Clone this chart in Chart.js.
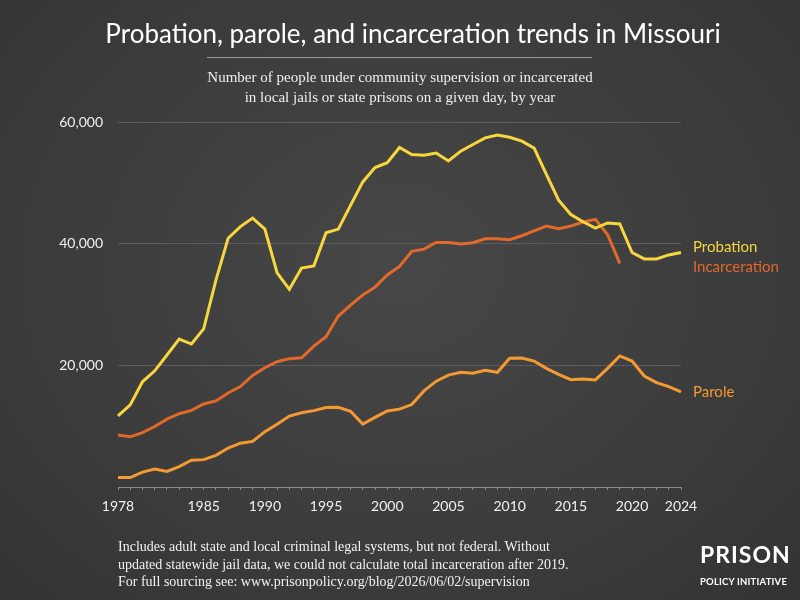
<!DOCTYPE html>
<html>
<head>
<meta charset="utf-8">
<script src="https://cdn.jsdelivr.net/npm/chart.js@4"></script>
<style>
  html, body { margin: 0; padding: 0; }
  body {
    width: 800px; height: 600px; overflow: hidden; position: relative;
    background: radial-gradient(ellipse at 50% 45%, #474747 0%, #3d3d3d 55%, #333333 100%);
    color: #fff;
  }
  #wrap { position: absolute; left: 0; top: 0; width: 800px; height: 600px; }
  .title {
    position: absolute; left: 13px; width: 800px; top: 17px; text-align: center;
    font-family: Lato, sans-serif; font-size: 26px; color: #fff;
  }
  .rule { position: absolute; left: 207px; width: 385px; top: 57px; height: 1px; background: #9a9a9a; }
  .sub {
    position: absolute; left: 0; width: 800px; top: 67px; text-align: center;
    font-family: "Liberation Serif", serif; font-size: 15px; line-height: 20px; color: #eee;
  }
  .foot {
    position: absolute; left: 118px; top: 538px;
    font-family: "Liberation Serif", serif; font-size: 14px; line-height: 17.5px; color: #f2f2f2;
  }
  .logo1 {
    position: absolute; left: 700px; top: 542px; font-family: Lato, sans-serif;
    font-size: 23px; font-weight: bold; letter-spacing: 1px; color: #fff; line-height: 24px;
  }
  .logo2 {
    position: absolute; left: 700px; top: 577px; font-family: Lato, sans-serif;
    font-size: 9.5px; font-weight: bold; color: #fff; line-height: 10px; letter-spacing: 0.2px;
  }
</style>
</head>
<body>
<div id="wrap"><canvas id="trendChart" width="800" height="600"></canvas></div>
<div class="title">Probation, parole, and incarceration trends in Missouri</div>
<div class="rule"></div>
<div class="sub">Number of people under community supervision or incarcerated<br>in local jails or state prisons on a given day, by year</div>
<div class="foot">Includes adult state and local criminal legal systems, but not federal. Without<br>updated statewide jail data, we could not calculate total incarceration after 2019.<br>For full sourcing see: www.prisonpolicy.org/blog/2026/06/02/supervision</div>
<div class="logo1">PRISON</div>
<div class="logo2">POLICY INITIATIVE</div>
<script>
// Years 1978 - 2024
var years = [];
for (var y = 1978; y <= 2024; y++) years.push(String(y));

// Only these years get a tick label
var shownYears = ['1978', '1985', '1990', '1995', '2000', '2005', '2010', '2015', '2020', '2024'];

var probation = [
  11700, 13500, 17300, 19100, 21700, 24300, 23500, 26000, 34000, 40900,
  42800, 44200, 42400, 35200, 32500, 36000, 36350, 41800, 42400, 46300,
  50150, 52500, 53300, 55800, 54650, 54550, 54900, 53600, 55200, 56300,
  57400, 57850, 57500, 56850, 55700, 51400, 47150, 44800, 43600, 42550,
  43400, 43250, 38550, 37500, 37500, 38150, 38550
];

// incarceration stops at 2019 (no jail data after)
var incarceration = [
  8550, 8250, 8950, 9950, 11150, 12050, 12600, 13650, 14150, 15450,
  16500, 18350, 19600, 20600, 21100, 21250, 23150, 24700, 28100, 29900,
  31550, 32850, 34850, 36250, 38750, 39100, 40200, 40200, 39950, 40150,
  40800, 40800, 40650, 41300, 42100, 42900, 42450, 42900, 43550, 44000,
  41500, 36750
];

var parole = [
  1550, 1550, 2450, 2950, 2550, 3350, 4400, 4500, 5200, 6400,
  7200, 7500, 9100, 10300, 11650, 12200, 12550, 13050, 13100, 12450,
  10350, 11450, 12500, 12800, 13550, 15800, 17400, 18400, 18850, 18700,
  19200, 18850, 21150, 21200, 20700, 19500, 18500, 17650, 17750, 17600,
  19500, 21550, 20700, 18250, 17150, 16500, 15650
];

var seriesNames = ['Probation', 'Incarceration', 'Parole'];
var seriesColors = ['#f7d63e', '#e2692a', '#f59a32'];

var ctx = document.getElementById('trendChart').getContext('2d');

// draws the series names at the right end of the lines
var endLabels = {
  id: 'endLabels',
  afterDatasetsDraw: function (chart) {
    var c = chart.ctx;
    var yScale = chart.scales.y;
    var x = chart.chartArea.right + 12;
    var probY = yScale.getPixelForValue(probation[probation.length - 1]) - 5;
    var spots = [probY, probY + 20, yScale.getPixelForValue(parole[parole.length - 1])];
    c.save();
    c.font = '15px Lato, sans-serif';
    c.textBaseline = 'middle';
    c.textAlign = 'left';
    for (var i = 0; i < seriesNames.length; i++) {
      c.fillStyle = seriesColors[i];
      c.fillText(seriesNames[i], x, spots[i]);
    }
    c.restore();
  }
};

var trendChart = new Chart(ctx, {
  type: 'line',
  data: {
    labels: years,
    datasets: [
      { label: 'Probation', data: probation, borderColor: seriesColors[0] },
      { label: 'Incarceration', data: incarceration, borderColor: seriesColors[1] },
      { label: 'Parole', data: parole, borderColor: seriesColors[2] }
    ]
  },
  options: {
    responsive: false,
    animation: false,
    layout: { padding: { left: 0, right: 119, top: 122, bottom: 73 } },
    elements: {
      line: { borderWidth: 3, tension: 0, fill: false },
      point: { radius: 0 }
    },
    plugins: {
      legend: { display: false },
      tooltip: { enabled: false }
    },
    scales: {
      x: {
        type: 'category',
        offset: false,
        afterFit: function (scale) { scale.height = 40; },
        grid: { drawOnChartArea: false, drawTicks: true, tickLength: 3, color: '#8a8a8a' },
        border: { display: true, color: '#8a8a8a', width: 1 },
        ticks: {
          autoSkip: false, maxRotation: 0, minRotation: 0, padding: 8,
          color: '#f0f0f0', font: { family: 'Lato', size: 14 },
          callback: function (val, idx) {
            var lab = this.getLabelForValue(val);
            return shownYears.indexOf(lab) >= 0 ? lab : '';
          }
        }
      },
      y: {
        min: 0, max: 60000,
        afterFit: function (scale) { scale.width = 118; },
        border: { display: false },
        grid: {
          drawTicks: false,
          color: function (c) { return c.tick.value === 0 ? 'rgba(0,0,0,0)' : '#5c5c5c'; }
        },
        ticks: {
          stepSize: 20000, padding: 15,
          color: '#f0f0f0', font: { family: 'Lato', size: 14 },
          callback: function (v) { return v === 0 ? '' : v.toLocaleString('en-US'); }
        }
      }
    }
  },
  plugins: [endLabels]
});
</script>
</body>
</html>
